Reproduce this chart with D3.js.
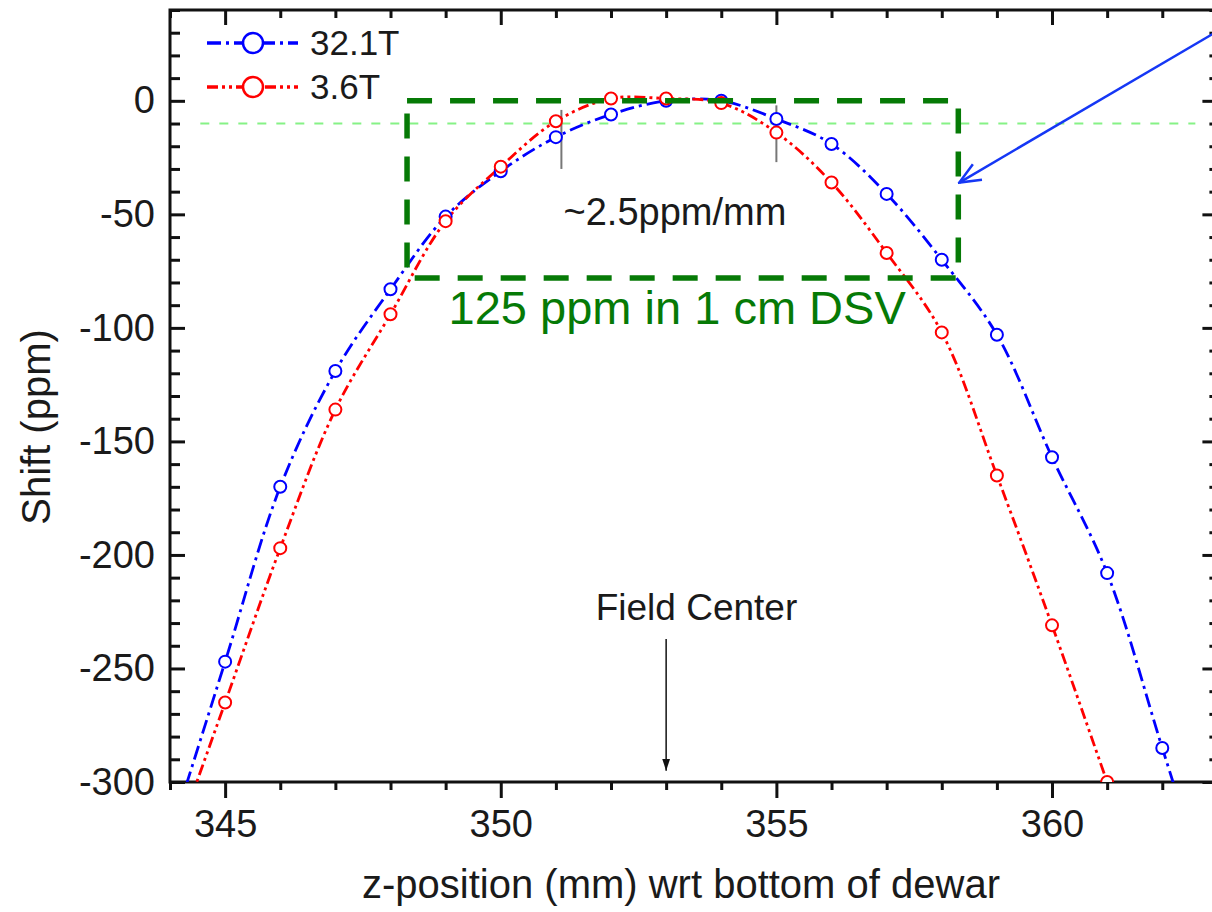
<!DOCTYPE html>
<html>
<head>
<meta charset="utf-8">
<script src="https://cdn.jsdelivr.net/npm/d3@7"></script>
<style>
  body { margin: 0; background: #fff; }
  svg { display: block; font-family: "Liberation Sans", Arial, sans-serif; }
</style>
</head>
<body>
<div id="chart"></div>
<script>
//------------------------------------------------------
// 1) Data (read off the figure)
//------------------------------------------------------

// 32.1T series
const zBlue = [345, 346, 347, 348, 349, 350, 351, 352, 353, 354, 355, 356, 357, 358, 359, 360, 361, 362];
const shiftBlue = [-247, -170, -119, -83, -51, -31, -16, -6, 0, 0, -8, -19, -41, -70, -103, -157, -208, -285];

// 3.6T series
const zRed = [345, 346, 347, 348, 349, 350, 351, 352, 353, 354, 355, 356, 357, 358, 359, 360, 361];
const shiftRed = [-265, -197, -136, -94, -53, -29, -9, 1, 1, -1, -14, -36, -67, -102, -165, -231, -300];

const seriesNames = ["32.1T", "3.6T"];

const xMajorTicks = [345, 350, 355, 360];
const yMajorTicks = [-300, -250, -200, -150, -100, -50, 0];

// annotations (data units)
const dsvBox = { z0: 348.3, z1: 358.3, s0: -78, s1: 0 };
const refLevel = { z0: 344.55, z1: 362.6, s: -10 };
const slopeMarks = [
  { z: 351.1, s0: -4, s1: -30 },
  { z: 355, s0: -2, s1: -27 }
];
const fieldCenter = 353;

//------------------------------------------------------
// 2) Layout
//------------------------------------------------------

const width = 1212;
const height = 912;
const plot = { left: 170, right: 1217.4, top: 10, bottom: 782 };

const x = d3.scaleLinear().domain([344, 363]).range([plot.left, plot.right]);
const y = d3.scaleLinear().domain([-300, 40]).range([plot.bottom, plot.top]);

const svg = d3.select("#chart").append("svg")
  .attr("width", width)
  .attr("height", height);

const defs = svg.append("defs");

defs.append("clipPath")
  .attr("id", "plotClip")
  .append("rect")
  .attr("x", plot.left)
  .attr("y", plot.top)
  .attr("width", plot.right - plot.left)
  .attr("height", plot.bottom - plot.top);

defs.append("marker")
  .attr("id", "blackHead")
  .attr("markerUnits", "userSpaceOnUse")
  .attr("viewBox", "0 0 12 10")
  .attr("refX", 12).attr("refY", 5)
  .attr("markerWidth", 12).attr("markerHeight", 10)
  .attr("orient", "auto")
  .append("path")
  .attr("d", "M0,1 L12,5 L0,9 Z")
  .attr("fill", "#111");

defs.append("marker")
  .attr("id", "blueHead")
  .attr("markerUnits", "userSpaceOnUse")
  .attr("viewBox", "0 0 26 26")
  .attr("refX", 24).attr("refY", 13)
  .attr("markerWidth", 26).attr("markerHeight", 26)
  .attr("orient", "auto")
  .append("path")
  .attr("d", "M3,4 L24,13 L3,22")
  .attr("fill", "none")
  .attr("stroke", "#1537f5")
  .attr("stroke-width", 2.5);

//------------------------------------------------------
// 3) Axes (left / top / right ticks inward, bottom outward)
//------------------------------------------------------

const yMinor = d3.range(-300, 41, 10).filter(v => v % 50 !== 0);
const xMinor = d3.range(344, 364, 1).filter(v => v % 5 !== 0);
const plain = d => String(d);   // hyphen-minus like the original

function styleAxis(g) {
  g.select(".domain").remove();
  g.selectAll(".tick line").attr("stroke", "#111").attr("stroke-width", 3);
  g.selectAll(".tick text")
    .attr("fill", "#1a1a1a")
    .style("font-size", "38px");
}

// left
svg.append("g")
  .attr("transform", `translate(${plot.left},0)`)
  .call(d3.axisLeft(y).tickValues(yMajorTicks).tickSize(-15).tickPadding(15).tickFormat(plain))
  .call(styleAxis);
svg.append("g")
  .attr("transform", `translate(${plot.left},0)`)
  .call(d3.axisLeft(y).tickValues(yMinor).tickSize(-10).tickFormat(""))
  .call(styleAxis);

// right
svg.append("g")
  .attr("transform", `translate(${plot.right},0)`)
  .call(d3.axisRight(y).tickValues(yMajorTicks).tickSize(-15).tickFormat(""))
  .call(styleAxis);
svg.append("g")
  .attr("transform", `translate(${plot.right},0)`)
  .call(d3.axisRight(y).tickValues(yMinor).tickSize(-8).tickFormat(""))
  .call(styleAxis);

// bottom
svg.append("g")
  .attr("transform", `translate(0,${plot.bottom})`)
  .call(d3.axisBottom(x).tickValues(xMajorTicks).tickSize(16).tickPadding(12).tickFormat(plain))
  .call(styleAxis);
svg.append("g")
  .attr("transform", `translate(0,${plot.bottom})`)
  .call(d3.axisBottom(x).tickValues(xMinor).tickSize(8).tickFormat(""))
  .call(styleAxis);

// top
svg.append("g")
  .attr("transform", `translate(0,${plot.top})`)
  .call(d3.axisTop(x).tickValues(xMajorTicks).tickSize(-15).tickFormat(""))
  .call(styleAxis);
svg.append("g")
  .attr("transform", `translate(0,${plot.top})`)
  .call(d3.axisTop(x).tickValues(xMinor).tickSize(-8).tickFormat(""))
  .call(styleAxis);

// frame
svg.append("rect")
  .attr("x", plot.left)
  .attr("y", plot.top)
  .attr("width", plot.right - plot.left)
  .attr("height", plot.bottom - plot.top)
  .attr("fill", "none")
  .attr("stroke", "#111")
  .attr("stroke-width", 3);

// axis titles
svg.append("text")
  .attr("transform", `translate(50,427) rotate(-90)`)
  .attr("text-anchor", "middle")
  .attr("fill", "#1a1a1a")
  .style("font-size", "40px")
  .text("Shift (ppm)");

svg.append("text")
  .attr("x", 681)
  .attr("y", 898)
  .attr("text-anchor", "middle")
  .attr("fill", "#1a1a1a")
  .style("font-size", "40px")
  .text("z-position (mm) wrt bottom of dewar");

//------------------------------------------------------
// 4) Annotations behind the data
//------------------------------------------------------

svg.append("line")
  .attr("x1", x(refLevel.z0)).attr("x2", x(refLevel.z1))
  .attr("y1", y(refLevel.s)).attr("y2", y(refLevel.s))
  .attr("stroke", "#86f286")
  .attr("stroke-width", 2)
  .attr("stroke-dasharray", "9,10");

svg.selectAll(".slope-mark")
  .data(slopeMarks)
  .join("line")
  .attr("class", "slope-mark")
  .attr("x1", d => x(d.z)).attr("x2", d => x(d.z))
  .attr("y1", d => y(d.s0)).attr("y2", d => y(d.s1))
  .attr("stroke", "#777")
  .attr("stroke-width", 2);

//------------------------------------------------------
// 5) Series
//------------------------------------------------------

// extend each curve 1 mm past its ends along the end segments, then clip
function extended(zs, ss) {
  const n = zs.length;
  const pts = zs.map((z, i) => [z, ss[i]]);
  const first = [2 * zs[0] - zs[1], 2 * ss[0] - ss[1]];
  const last = [2 * zs[n - 1] - zs[n - 2], 2 * ss[n - 1] - ss[n - 2]];
  return [first, ...pts, last];
}

const series = [
  { name: seriesNames[0], z: zBlue, s: shiftBlue, color: "#0000ff", dash: "14,5,3,5" },
  { name: seriesNames[1], z: zRed, s: shiftRed, color: "#ff0000", dash: "11,4,3,4,3,4" }
];

const line = d3.line()
  .x(d => x(d[0]))
  .y(d => y(d[1]))
  .curve(d3.curveCatmullRom.alpha(0.5));

const gData = svg.append("g").attr("clip-path", "url(#plotClip)");

series.forEach(sr => {
  gData.append("path")
    .datum(extended(sr.z, sr.s))
    .attr("d", line)
    .attr("fill", "none")
    .attr("stroke", sr.color)
    .attr("stroke-width", 2.8)
    .attr("stroke-dasharray", sr.dash);
});

series.forEach(sr => {
  gData.selectAll(null)
    .data(sr.z.map((z, i) => [z, sr.s[i]]))
    .join("circle")
    .attr("cx", d => x(d[0]))
    .attr("cy", d => y(d[1]))
    .attr("r", 6)
    .attr("fill", "#fff")
    .attr("stroke", sr.color)
    .attr("stroke-width", 2);
});

//------------------------------------------------------
// 6) Box, labels, arrows
//------------------------------------------------------

svg.append("rect")
  .attr("x", x(dsvBox.z0))
  .attr("y", y(dsvBox.s1))
  .attr("width", x(dsvBox.z1) - x(dsvBox.z0))
  .attr("height", y(dsvBox.s0) - y(dsvBox.s1))
  .attr("fill", "none")
  .attr("stroke", "#067a06")
  .attr("stroke-width", 5.5)
  .attr("stroke-dasharray", "25,18");

svg.append("text")
  .attr("x", x(353.16))
  .attr("y", y(-54.6))
  .attr("text-anchor", "middle")
  .attr("fill", "#1a1a1a")
  .style("font-size", "38px")
  .text("~2.5ppm/mm");

svg.append("text")
  .attr("x", x(353.2))
  .attr("y", y(-98.2))
  .attr("text-anchor", "middle")
  .attr("fill", "#067a06")
  .style("font-size", "47px")
  .text("125 ppm in 1 cm DSV");

svg.append("text")
  .attr("x", x(353.55))
  .attr("y", y(-228.5))
  .attr("text-anchor", "middle")
  .attr("fill", "#1a1a1a")
  .style("font-size", "37px")
  .text("Field Center");

svg.append("line")
  .attr("x1", x(fieldCenter)).attr("x2", x(fieldCenter))
  .attr("y1", y(-237)).attr("y2", y(-295))
  .attr("stroke", "#111")
  .attr("stroke-width", 1.5)
  .attr("marker-end", "url(#blackHead)");

svg.append("line")
  .attr("x1", 1216).attr("y1", 32)
  .attr("x2", x(dsvBox.z1) + 1).attr("y2", y(-36))
  .attr("stroke", "#1537f5")
  .attr("stroke-width", 2.5)
  .attr("marker-end", "url(#blueHead)");

//------------------------------------------------------
// 7) Legend
//------------------------------------------------------

const legend = svg.append("g").attr("transform", "translate(207,43)");

series.forEach((sr, i) => {
  const row = legend.append("g").attr("transform", `translate(0,${i * 44})`);
  row.append("line")
    .attr("x1", 0).attr("x2", 91)
    .attr("stroke", sr.color)
    .attr("stroke-width", 3.5)
    .attr("stroke-dasharray", sr.dash);
  row.append("circle")
    .attr("cx", 46)
    .attr("r", 10)
    .attr("fill", "#fff")
    .attr("stroke", sr.color)
    .attr("stroke-width", 2.5);
  row.append("text")
    .attr("x", 103)
    .attr("y", 12)
    .attr("fill", "#1a1a1a")
    .style("font-size", "35px")
    .text(sr.name);
});
</script>
</body>
</html>
